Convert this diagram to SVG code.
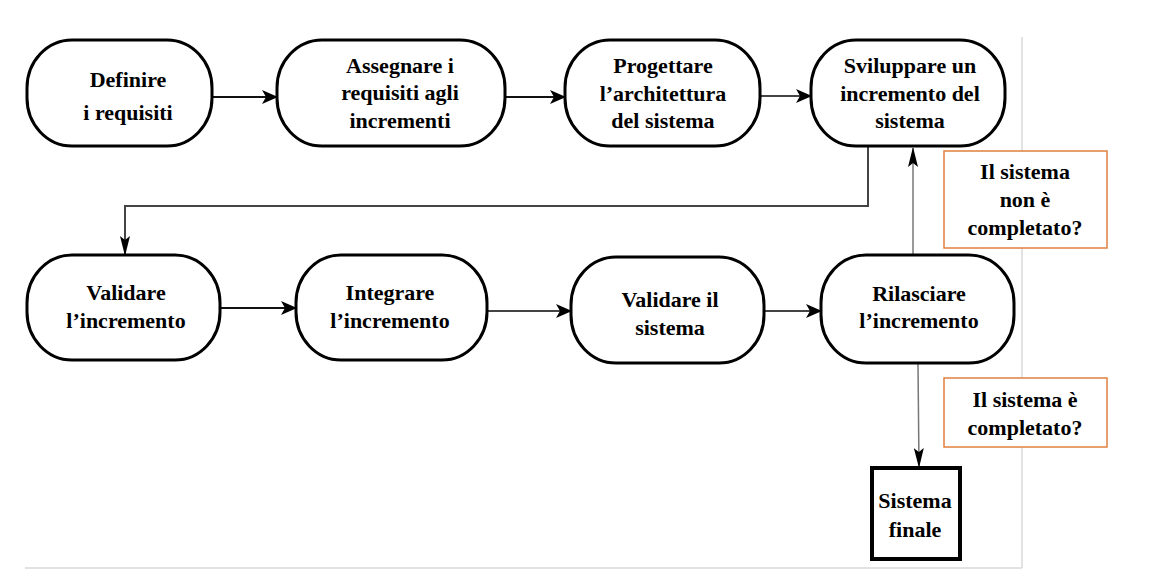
<svg xmlns="http://www.w3.org/2000/svg" width="1150" height="576" viewBox="0 0 1150 576">
<defs>
<style>
.node{fill:#fff;stroke:#000;stroke-width:3}
.sq{fill:#fff;stroke:#000;stroke-width:4}
.note{fill:#fff;stroke:#E0803F;stroke-width:1.5}
.t{font-family:"Liberation Serif","Times New Roman",serif;font-weight:bold;font-size:22px;fill:#000;text-anchor:middle}
.c{fill:none;stroke:#111;stroke-width:2.2}
.cg{fill:none;stroke:#444;stroke-width:2}
.cl{fill:none;stroke:#777;stroke-width:1.5}
.frame{fill:none;stroke:#d8d8d8;stroke-width:1.5}
</style>
<marker id="ah" viewBox="0 0 16 14" refX="15" refY="7" markerWidth="16" markerHeight="14" markerUnits="userSpaceOnUse" orient="auto">
<path d="M0,0 L16,7 L0,14 L4,7 z" fill="#000"/>
</marker>
<marker id="an" viewBox="0 0 20 10" refX="19" refY="5" markerWidth="20" markerHeight="10" markerUnits="userSpaceOnUse" orient="auto">
<path d="M0,0 L20,5 L0,10 L4,5 z" fill="#000"/>
</marker>
</defs>
<rect width="1150" height="576" fill="#fff"/>
<g id="frame">
<line class="frame" x1="1022" y1="37" x2="1022" y2="568"/>
<line class="frame" x1="25" y1="568" x2="1022" y2="568"/>
</g>
<g id="connectors">
<line class="c" x1="212" y1="97" x2="277" y2="97" marker-end="url(#ah)"/>
<line class="c" x1="505" y1="97" x2="565" y2="97" marker-end="url(#ah)"/>
<line class="cg" x1="760" y1="96" x2="811" y2="96" marker-end="url(#ah)"/>
<polyline class="cg" points="868,147 868,206 125,206 125,255" marker-end="url(#an)"/>
<line class="c" x1="220" y1="308" x2="296" y2="308" marker-end="url(#ah)"/>
<line class="cg" x1="487" y1="311" x2="571" y2="311" marker-end="url(#ah)"/>
<line class="cg" x1="764" y1="311" x2="821" y2="311" marker-end="url(#ah)"/>
<line class="cl" x1="913" y1="255" x2="913" y2="148" marker-end="url(#an)"/>
<line class="cl" x1="918" y1="364" x2="919" y2="467" marker-end="url(#an)"/>
</g>
<g id="n1">
<rect class="node" x="27" y="40" width="185" height="106" rx="45" ry="48"/>
<text class="t" x="128" y="87">Definire</text>
<text class="t" x="128" y="120">i requisiti</text>
</g>
<g id="n2">
<rect class="node" x="277" y="40" width="228" height="106" rx="45" ry="48"/>
<text class="t" x="400" y="73">Assegnare i</text>
<text class="t" x="400" y="100">requisiti agli</text>
<text class="t" x="400" y="128">incrementi</text>
</g>
<g id="n3">
<rect class="node" x="565" y="40" width="195" height="106" rx="45" ry="48"/>
<text class="t" x="663" y="73">Progettare</text>
<text class="t" x="663" y="101">l’architettura</text>
<text class="t" x="663" y="128">del sistema</text>
</g>
<g id="n4">
<rect class="node" x="811" y="40" width="194" height="106" rx="45" ry="48"/>
<text class="t" x="910" y="73">Sviluppare un</text>
<text class="t" x="910" y="101">incremento del</text>
<text class="t" x="910" y="128">sistema</text>
</g>
<g id="n5">
<rect class="node" x="27" y="255" width="193" height="105" rx="45" ry="48"/>
<text class="t" x="126" y="300">Validare</text>
<text class="t" x="126" y="328">l’incremento</text>
</g>
<g id="n6">
<rect class="node" x="296" y="255" width="191" height="105" rx="45" ry="48"/>
<text class="t" x="390" y="300">Integrare</text>
<text class="t" x="390" y="328">l’incremento</text>
</g>
<g id="n7">
<rect class="node" x="571" y="257" width="193" height="106" rx="45" ry="48"/>
<text class="t" x="670" y="307">Validare il</text>
<text class="t" x="670" y="335">sistema</text>
</g>
<g id="n8">
<rect class="node" x="821" y="255" width="193" height="108" rx="45" ry="48"/>
<text class="t" x="919" y="301">Rilasciare</text>
<text class="t" x="919" y="328">l’incremento</text>
</g>
<g id="note1">
<rect class="note" x="944" y="151" width="163" height="97"/>
<text class="t" x="1025" y="179">Il sistema</text>
<text class="t" x="1025" y="207">non è</text>
<text class="t" x="1025" y="235">completato?</text>
</g>
<g id="note2">
<rect class="note" x="944" y="378" width="163" height="69"/>
<text class="t" x="1025" y="407">Il sistema è</text>
<text class="t" x="1025" y="435">completato?</text>
</g>
<g id="final">
<rect class="sq" x="872" y="468" width="88" height="91"/>
<text class="t" x="915" y="508">Sistema</text>
<text class="t" x="915" y="537">finale</text>
</g>
</svg>
